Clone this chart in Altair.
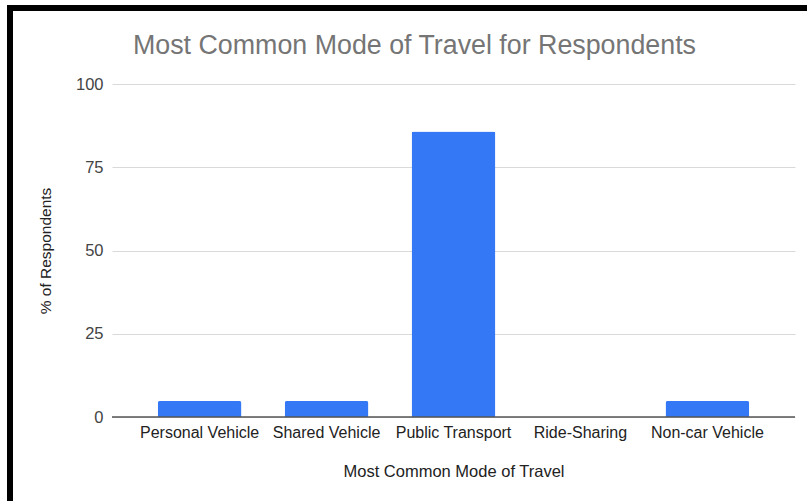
import altair as alt
import pandas as pd

categories = ["Personal Vehicle", "Shared Vehicle", "Public Transport", "Ride-Sharing", "Non-car Vehicle"]
values = [4.8, 4.8, 85.7, 0.0, 4.8]
y_ticks = [0, 25, 50, 75, 100]
title_text = "Most Common Mode of Travel for Respondents"
x_title = "Most Common Mode of Travel"
y_title = "% of Respondents"

df = pd.DataFrame({"mode": categories, "pct": values})

FONT = "Liberation Sans"
W, H = 683, 333

base = alt.Chart(df)

bars = base.mark_bar(color="#3478f6", cornerRadiusTopLeft=2, cornerRadiusTopRight=2).encode(
    x=alt.X("mode:N", sort=categories,
            scale=alt.Scale(paddingInner=0.34, paddingOuter=0.36),
            axis=alt.Axis(title=x_title, labelAngle=0, labelFontSize=16, labelFont=FONT,
                          labelColor="#222222", titleFont=FONT, titleFontSize=16.5,
                          titleFontWeight="normal", titleColor="#222222",
                          domain=False, ticks=False, labelPadding=7, titlePadding=23)),
    y=alt.Y("pct:Q", scale=alt.Scale(domain=[0, 100], nice=False),
            axis=alt.Axis(title=y_title, values=y_ticks, labelFontSize=16.5, labelFont=FONT,
                          labelColor="#444444", titleFont=FONT, titleFontSize=15.5,
                          titleFontWeight="normal", titleColor="#222222",
                          domain=False, ticks=False, labelPadding=9, titlePadding=22,
                          gridColor="#d9d9d9", gridWidth=1)),
)

zero = alt.Chart(pd.DataFrame({"z": [0]})).mark_rule(color="#555555", strokeWidth=1.5).encode(
    y=alt.Y("z:Q", scale=alt.Scale(domain=[0, 100], nice=False))
)

title = alt.Chart(pd.DataFrame({"t": [title_text]})).mark_text(
    align="left", baseline="alphabetic", font=FONT, fontSize=26.8, color="#757575"
).encode(x=alt.value(21), y=alt.value(-30), text="t:N")

border_left = alt.Chart(pd.DataFrame({"a": [0]})).mark_rect(color="black").encode(
    x=alt.value(-105), x2=alt.value(-99), y=alt.value(-79), y2=alt.value(417)
)
border_top = alt.Chart(pd.DataFrame({"a": [0]})).mark_rect(color="black").encode(
    x=alt.value(-105), x2=alt.value(695), y=alt.value(-79), y2=alt.value(-73)
)

chart = alt.layer(bars, zero, title, border_left, border_top).properties(
    width=W, height=H,
    autosize=alt.AutoSizeParams(type="none"),
    padding={"left": 112, "top": 84, "right": 12, "bottom": 84},
    background="white",
).configure_view(stroke=None)

chart.save("out.html", embed_options={"renderer": "svg", "actions": False})
